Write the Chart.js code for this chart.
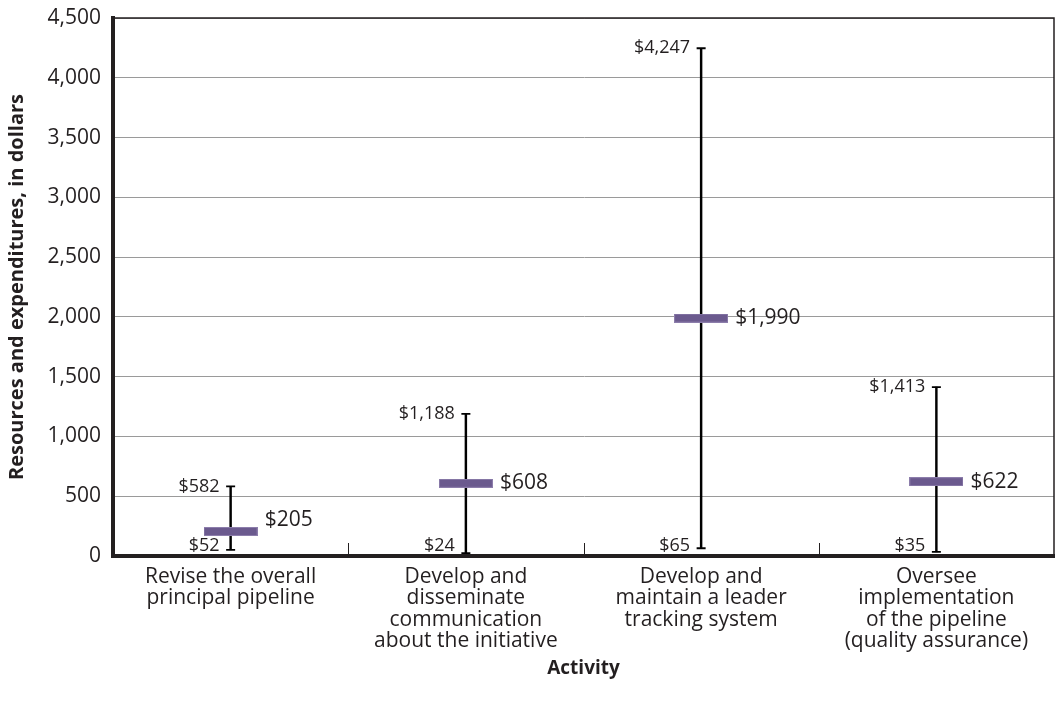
<!DOCTYPE html>
<html>
<head>
<meta charset="utf-8">
<title>Resources and expenditures by activity</title>
<script src="https://cdn.jsdelivr.net/npm/chart.js@4/dist/chart.umd.min.js"></script>
<style>
  html, body { margin: 0; padding: 0; background: #fff; }
  canvas { display: block; }
</style>
</head>
<body>
<canvas id="chart" width="1056" height="709"></canvas>
<script>
// data
const categories = [
  ['Revise the overall', 'principal pipeline'],
  ['Develop and', 'disseminate', 'communication', 'about the initiative'],
  ['Develop and', 'maintain a leader', 'tracking system'],
  ['Oversee', 'implementation', 'of the pipeline', '(quality assurance)']
];
const lowValues = [52, 24, 65, 35];
const highValues = [582, 1188, 4247, 1413];
const meanValues = [205, 608, 1990, 622];

const FONT = '"Open Sans", "DejaVu Sans", sans-serif';
const TEXT = '#231f20';
const PURPLE = '#6b5a8e';

function money(v) { return '$' + v.toLocaleString('en-US'); }

// purple dash used as the point style for the middle value
const dash = document.createElement('canvas');
dash.width = 54; dash.height = 9;
(function() {
  const c = dash.getContext('2d');
  c.fillStyle = '#8c7dab';
  c.fillRect(0, 0, 54, 9);
  c.fillStyle = PURPLE;
  c.fillRect(1, 1, 52, 7);
})();

// labels, frame and the little inside ticks
const extras = {
  id: 'extras',
  afterDatasetsDraw(chart) {
    const ctx = chart.ctx;
    const x = chart.scales.x, y = chart.scales.y;
    const area = chart.chartArea;
    ctx.save();

    // frame top + right
    ctx.strokeStyle = TEXT;
    ctx.lineWidth = 1.5;
    ctx.beginPath();
    ctx.moveTo(area.left, area.top);
    ctx.lineTo(area.right, area.top);
    ctx.lineTo(area.right, area.bottom);
    ctx.stroke();

    // ticks between categories
    ctx.lineWidth = 1;
    for (let i = 0; i < categories.length - 1; i++) {
      const bx = Math.round((x.getPixelForValue(i) + x.getPixelForValue(i + 1)) / 2) + 0.5;
      ctx.beginPath();
      ctx.moveTo(bx, area.bottom);
      ctx.lineTo(bx, area.bottom - 13);
      ctx.stroke();
    }

    ctx.fillStyle = TEXT;
    ctx.textBaseline = 'middle';
    for (let i = 0; i < categories.length; i++) {
      const px = x.getPixelForValue(i);
      ctx.font = '18px ' + FONT;
      ctx.textAlign = 'right';
      ctx.fillText(money(highValues[i]), px - 11, y.getPixelForValue(highValues[i]));
      ctx.fillText(money(lowValues[i]), px - 11, Math.min(y.getPixelForValue(lowValues[i]), area.bottom - 10));
      ctx.font = '21px ' + FONT;
      ctx.textAlign = 'left';
      ctx.fillText(money(meanValues[i]), px + 34, Math.min(y.getPixelForValue(meanValues[i]), area.bottom - 36));
    }
    ctx.restore();
  }
};

new Chart(document.getElementById('chart'), {
  type: 'bar',
  data: {
    labels: categories,
    datasets: [
      {
        type: 'line',
        label: 'Mean',
        data: meanValues,
        showLine: false,
        pointStyle: dash,
        order: 0
      },
      {
        type: 'line',
        label: 'High',
        data: highValues,
        showLine: false,
        pointStyle: 'line',
        pointRadius: 4.5,
        pointBorderWidth: 1.8,
        pointBorderColor: '#000',
        order: 1
      },
      {
        type: 'line',
        label: 'Low',
        data: lowValues,
        showLine: false,
        pointStyle: 'line',
        pointRadius: 4.5,
        pointBorderWidth: 1.8,
        pointBorderColor: '#000',
        order: 1
      },
      {
        label: 'Range',
        data: lowValues.map((v, i) => [v, highValues[i]]),
        backgroundColor: '#000',
        barThickness: 1.8,
        order: 2
      }
    ]
  },
  options: {
    responsive: false,
    animation: false,
    devicePixelRatio: 1,
    layout: { autoPadding: false, padding: { top: 18, right: 2, left: 0, bottom: 0 } },
    plugins: {
      legend: { display: false },
      tooltip: { enabled: false }
    },
    scales: {
      x: {
        grid: { display: false, drawTicks: false },
        border: { display: true, color: TEXT, width: 4 },
        ticks: {
          color: TEXT,
          padding: 10,
          maxRotation: 0,
          autoSkip: false,
          font: { family: FONT, size: 21, lineHeight: 1.024 }
        },
        title: {
          display: true,
          text: 'Activity',
          color: TEXT,
          font: { family: FONT, size: 19, weight: 'bold' },
          padding: { top: 0, bottom: 29 }
        },
        afterFit(scale) {
          scale.height = 153;
          scale.paddingLeft = 0;
          scale.paddingRight = 0;
        }
      },
      y: {
        min: 0,
        max: 4500,
        grid: { color: '#9a9a9a', lineWidth: 1, drawTicks: false },
        border: { display: true, color: TEXT, width: 4 },
        ticks: {
          stepSize: 500,
          color: TEXT,
          padding: 12,
          font: { family: FONT, size: 21 },
          callback: v => v.toLocaleString('en-US')
        },
        title: {
          display: true,
          text: 'Resources and expenditures, in dollars',
          color: TEXT,
          font: { family: FONT, size: 20, weight: 'bold' },
          padding: { top: 5, bottom: 0 }
        },
        afterFit(scale) {
          scale.width = 113;
          scale.paddingTop = 0;
          scale.paddingBottom = 0;
        }
      }
    }
  },
  plugins: [extras]
});
</script>
</body>
</html>
